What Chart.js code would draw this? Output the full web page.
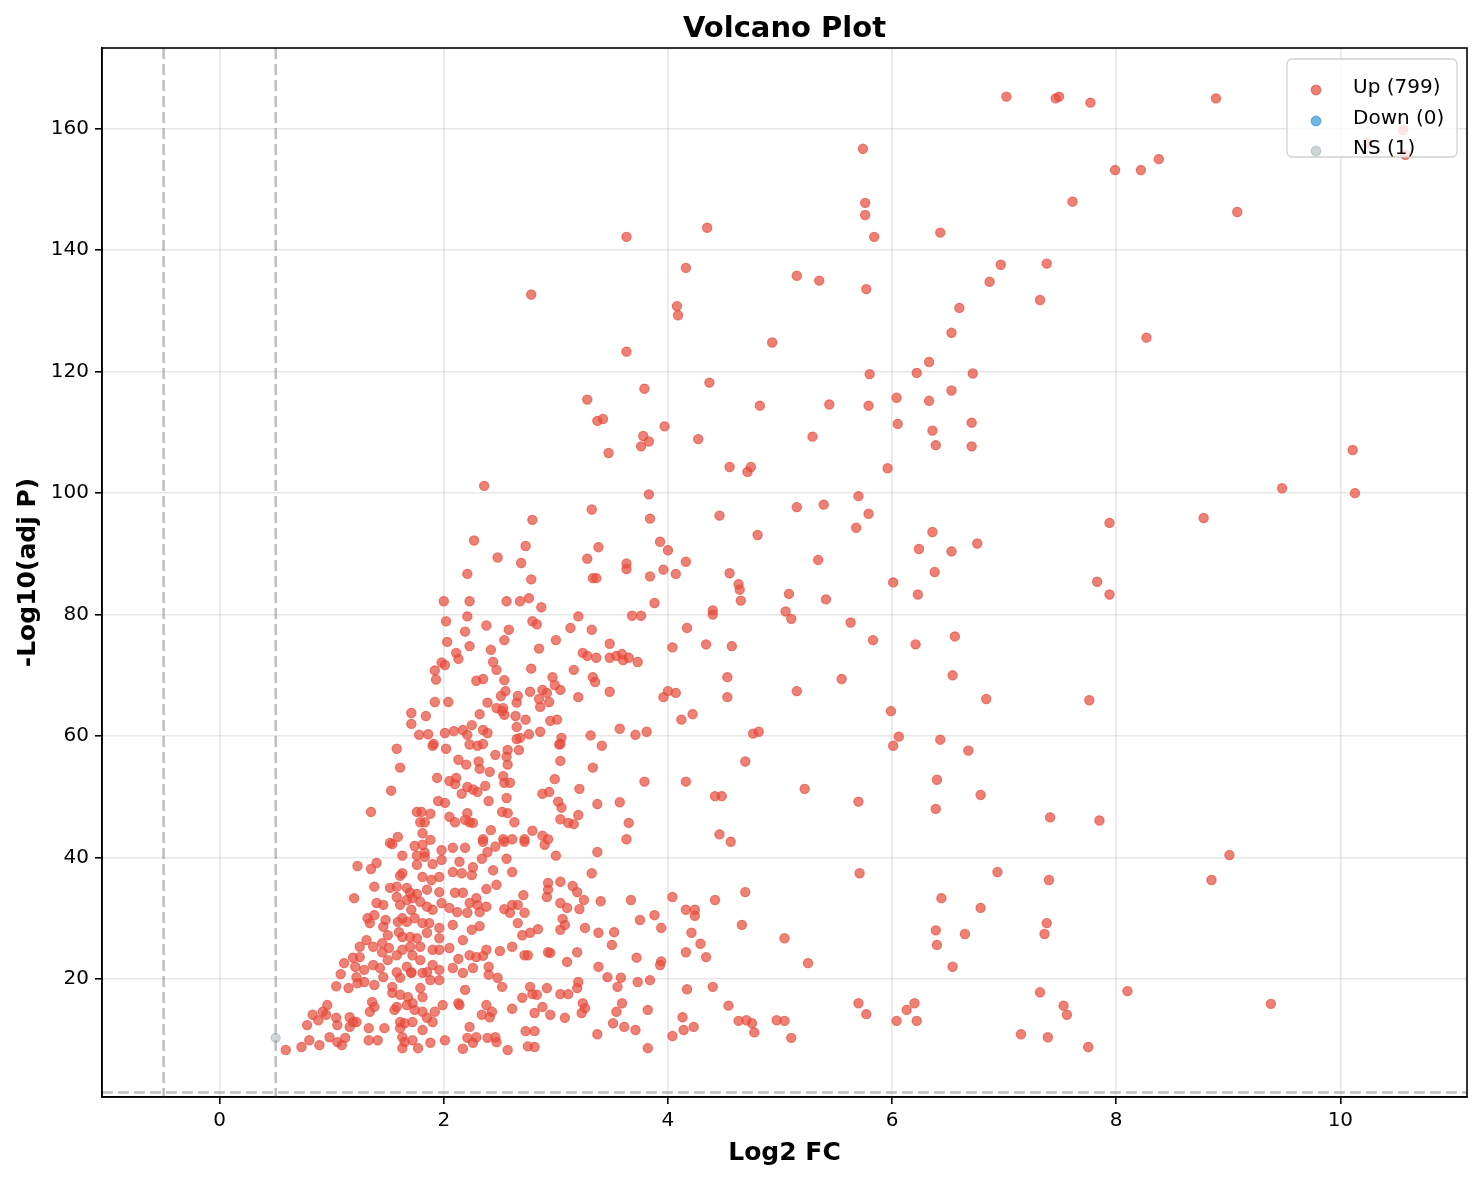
<!DOCTYPE html>
<html>
<head>
<meta charset="utf-8">
<title>Volcano Plot</title>
<script src="https://cdn.jsdelivr.net/npm/chart.js@4.4.0/dist/chart.umd.min.js"></script>
<style>
  html, body { margin: 0; padding: 0; background: #fff; }
  #wrap { width: 1482px; height: 1180px; }
</style>
</head>
<body>
<div id="wrap"><canvas id="volcano" width="1482" height="1180"></canvas></div>
<script>
// tick positions
const xTicks = [0, 2, 4, 6, 8, 10];
const yTicks = [20, 40, 60, 80, 100, 120, 140, 160];

// thresholds (|log2FC| = 0.5, adj P = 0.05)
const fcCut = 0.5;
const pCut = 1.301;

// legend labels
const seriesNames = ["Up (799)", "Down (0)", "NS (1)"];

// [log2FC, -log10(adj P)] pairs, grouped by region
const upHighSig = [
  [7.02,165.3],[7.46,165.0],[7.49,165.3],[7.77,164.3],[8.89,165.0],[10.24,157.7],[10.56,159.8],[10.58,155.7],
  [5.74,156.7],[7.99,153.2],[8.22,153.2],[8.38,155.0],[5.76,147.8],[5.76,145.8],[5.84,142.2],[7.61,148.0],
  [9.08,146.3],[3.63,142.2],[4.35,143.7],[6.43,142.9],[4.16,137.1],[5.15,135.8],[5.35,135.0],[6.97,137.6],
  [7.38,137.8],[6.87,134.8],[7.32,131.8],[5.77,133.6],[2.78,132.7],[4.08,130.8],[4.09,129.3],[6.60,130.5],
  [6.53,126.4],[8.27,125.6],[3.63,123.3],[4.93,124.8],[6.33,121.6],[6.22,119.8],[6.72,119.7],[5.80,119.6],
  [4.37,118.2],[3.79,117.2],[6.53,116.9],[6.04,115.7],[6.33,115.2],[3.28,115.4],[4.82,114.4],[5.44,114.6],
  [5.79,114.4],[3.42,112.2],[3.37,111.9],[6.05,111.4],[6.71,111.6],[3.97,111.0],[6.36,110.3],[5.29,109.3],
  [4.27,108.9],[3.78,109.4],[3.83,108.5],[3.76,107.7],[6.39,107.9],[6.71,107.7],[3.47,106.6],[10.11,107.1],
  [4.55,104.3],[4.71,103.5],[4.74,104.3],[5.96,104.1],[2.36,101.2],[3.83,99.8],[9.48,100.8],[10.13,100.0],
  [5.70,99.5]
];

const upUpperMid = [
  [2.79,95.6],[3.84,95.8],[4.46,96.3],[8.78,95.9],[7.94,95.1],[3.32,97.3],[5.15,97.7],[5.39,98.1],
  [5.79,96.6],[5.68,94.3],[2.27,92.2],[6.36,93.6],[4.80,93.1],[3.93,92.0],[3.38,91.1],[2.73,91.3],
  [6.76,91.7],[4.00,90.6],[6.24,90.8],[6.53,90.4],[2.48,89.4],[3.28,89.2],[5.34,89.0],[4.16,88.7],
  [3.63,88.4],[3.63,87.5],[2.69,88.5],[3.96,87.4],[4.07,86.7],[2.21,86.7],[4.55,86.8],[6.38,87.0],
  [3.84,86.3],[3.33,86.0],[3.36,86.0],[2.78,85.8],[7.83,85.4],[4.63,85.0],[4.64,84.1],[6.01,85.3],
  [7.94,83.3],[5.08,83.4],[6.23,83.3],[4.65,82.3],[3.88,81.9],[5.41,82.5],[2.00,82.2],[2.23,82.2],
  [2.56,82.2],[2.68,82.2],[2.76,82.7],[2.87,81.2],[5.05,80.5],[4.40,80.7],[4.40,80.0],[3.20,79.7],
  [3.68,79.8],[3.76,79.8],[5.10,79.3],[2.21,79.7],[2.02,78.9],[5.63,78.7],[2.79,78.9],[2.83,78.4],
  [2.38,78.2],[3.13,77.8],[4.17,77.8],[3.32,77.5],[2.58,77.5],[2.19,77.2],[6.56,76.4],[5.83,75.8],
  [4.34,75.1],[4.57,74.8],[6.21,75.1],[4.04,74.6]
];

const upMidRight = [
  [7.76,65.9],[6.84,66.1],[5.99,64.1],[6.54,70.0],[5.55,69.4],[5.15,67.4],[4.53,69.7],[4.53,66.4],
  [4.00,67.4],[4.07,67.1],[3.96,66.4],[4.22,63.6],[4.12,62.7],[3.81,60.7],[6.06,59.9],[6.01,58.4],
  [6.43,59.4],[6.68,57.6],[4.76,60.4],[4.81,60.7],[4.69,55.8],[4.16,52.5],[3.79,52.5],[6.40,52.8],
  [5.22,51.3],[4.42,50.1],[4.48,50.1],[5.70,49.2],[6.79,50.3],[6.39,48.0],[7.41,46.6],[7.85,46.1],
  [4.46,43.8],[4.56,42.6],[9.01,40.4]
];

const upMidLeft = [
  [1.92,70.8],[1.93,69.3],[1.92,65.6],[1.71,63.8],[1.71,62.0],[1.84,63.3],[1.78,60.2],[1.86,60.3],
  [1.91,58.7],[1.90,58.4],[1.58,57.9],[1.61,54.8],[1.94,53.1],[1.53,51.0],[1.95,49.3],[1.35,47.5],
  [1.76,47.5],[1.80,47.5],[1.79,45.8],[1.83,45.8],[1.88,47.2],[1.81,44.0],[1.59,43.4],[1.52,42.4],
  [1.88,42.9]
];

const upMidCentre = [
  [2.03,75.5],[2.23,74.8],[2.54,75.8],[2.42,74.2],[2.85,74.4],[3.00,75.8],[3.48,75.2],[2.11,73.7],
  [2.13,72.7],[2.01,71.7],[1.98,72.1],[2.44,72.2],[2.47,70.9],[2.78,71.1],[3.16,70.9],[3.24,73.7],
  [3.28,73.2],[3.36,72.9],[3.48,72.9],[3.54,73.2],[3.59,73.5],[3.60,72.5],[3.65,72.9],[3.73,72.2],
  [2.29,69.1],[2.35,69.4],[2.54,69.2],[2.97,69.7],[2.99,68.4],[3.04,67.6],[3.33,69.7],[3.35,68.9],
  [2.77,67.3],[2.88,67.6],[2.92,67.1],[2.94,65.6],[2.85,66.1],[2.86,64.8],[2.66,66.6],[2.65,65.5],
  [2.55,67.4],[2.51,66.6],[3.20,66.4],[3.48,67.3],[2.04,65.6],[2.39,65.5],[2.47,64.6],[2.53,64.6],
  [2.54,63.5],[2.52,64.1],[2.32,63.6],[2.64,63.3],[2.73,62.7],[2.95,62.5],[3.01,62.7],[2.65,61.5],
  [2.01,60.5],[2.09,60.8],[2.17,61.0],[2.25,61.8],[2.35,61.0],[2.39,60.5],[2.21,60.2],[2.76,60.3],
  [2.86,60.7],[2.65,59.5],[2.68,59.7],[3.05,59.7],[3.04,58.7],[3.03,58.6],[3.31,60.1],[3.57,61.2],
  [3.71,60.2],[3.41,58.4],[2.23,58.6],[2.30,58.4],[2.35,58.7],[2.02,57.9],[2.57,57.7],[2.67,57.7],
  [2.46,56.9],[2.56,56.6],[2.57,55.3],[3.04,55.9],[2.13,56.1],[2.20,55.3],[2.31,55.8],[2.32,54.6],
  [2.41,54.1],[3.33,54.8],[2.53,53.4],[2.54,52.3],[2.59,52.3],[2.99,52.9],[3.21,51.3],[2.05,52.6],
  [2.11,53.1],[2.10,52.1],[2.21,51.6],[2.26,51.2],[2.30,50.8],[2.37,51.8],[2.16,50.5],[2.88,50.5],
  [2.94,50.8],[2.56,49.8],[2.40,49.3],[3.02,49.2],[3.05,48.2],[3.37,48.8],[3.57,49.1],[2.52,47.5],
  [2.57,47.3],[3.20,47.0],[3.04,46.3],[3.11,45.7],[3.16,45.5],[2.63,45.8],[3.65,45.7],[2.01,49.0],
  [2.05,46.7],[2.10,45.8],[2.21,47.3],[2.23,45.8],[2.26,45.7],[2.19,46.2],[2.42,44.5],[2.79,44.4],
  [2.88,43.6],[2.93,43.0],[2.53,43.0],[2.61,43.0],[2.35,43.0],[2.72,43.0],[3.63,43.0]
];

const upLowLeft = [
  [1.54,42.2],[1.74,41.9],[1.81,42.1],[1.83,40.8],[1.98,41.2],[1.63,40.3],[1.76,40.3],[1.83,40.1],
  [1.40,39.1],[1.23,38.6],[1.35,38.1],[1.61,37.0],[1.63,37.4],[1.76,38.8],[1.90,38.9],[1.98,39.6],
  [1.81,36.8],[1.89,36.3],[1.96,36.8],[1.38,35.2],[1.52,35.0],[1.58,35.2],[1.67,35.0],[1.70,34.2],
  [1.76,34.0],[1.85,34.7],[1.96,34.3],[1.20,33.3],[1.40,32.5],[1.46,32.2],[1.58,33.5],[1.61,32.2],
  [1.67,33.0],[1.72,33.3],[1.79,32.7],[1.85,31.9],[1.90,31.4],[1.98,32.5],[1.71,31.4],[1.32,30.0],
  [1.34,29.2],[1.38,30.5],[1.48,29.7],[1.46,28.6],[1.59,29.4],[1.63,30.0],[1.67,29.4],[1.74,30.0],
  [1.81,29.2],[1.87,29.2],[1.96,28.4],[1.50,27.2],[1.60,27.7],[1.63,26.9],[1.70,26.9],[1.76,26.7],
  [1.85,27.6],[1.96,26.7],[1.31,26.4],[1.25,25.3],[1.37,25.3],[1.45,25.9],[1.25,23.6],[1.19,23.5],
  [1.45,24.4],[1.51,25.1],[1.58,23.9],[1.63,24.8],[1.70,25.3],[1.72,23.9],[1.79,25.3],[1.90,24.8],
  [1.96,24.8],[1.11,22.6],[1.21,22.0],[1.29,21.5],[1.37,22.3],[1.43,21.8],[1.50,23.1],[1.58,21.1],
  [1.67,22.0],[1.71,21.1],[1.79,23.1],[1.85,21.1],[1.90,22.3],[1.96,21.5],[1.08,20.8],[1.22,20.3],
  [1.29,19.5],[1.38,19.0],[1.46,20.3],[1.61,20.2],[1.71,21.0],[1.81,21.0],[1.88,19.8],[1.96,19.8],
  [1.04,18.8],[1.15,18.5],[1.23,19.3],[1.54,18.7],[1.54,17.7],[1.61,17.4],[1.68,17.0],[1.79,18.5],
  [1.81,17.0],[1.72,16.0],[1.67,15.7],[0.96,15.7],[0.92,14.6],[0.83,14.1],[0.88,13.2],[0.95,14.1],
  [0.78,12.4],[1.04,13.6],[1.05,12.4],[1.16,13.7],[1.19,12.9],[1.22,12.9],[1.16,12.1],[1.36,16.2],
  [1.38,15.4],[1.34,14.6],[1.56,14.9],[1.58,15.4],[1.74,14.9],[1.81,14.6],[1.92,14.6],[1.99,15.7],
  [1.85,13.6],[1.90,12.9],[1.61,12.9],[1.65,12.7],[1.72,12.9],[1.61,11.9],[1.81,11.6],[1.33,11.9],
  [1.47,11.9],[0.80,9.9],[0.73,8.8],[0.89,9.1],[0.59,8.3],[0.98,10.4],[1.05,9.6],[1.09,9.1],
  [1.12,10.3],[1.33,9.9],[1.41,9.9],[1.63,10.4],[1.65,9.6],[1.72,9.9],[1.63,8.6],[1.77,8.6],
  [1.88,9.5],[2.01,9.9]
];

const upLowCentre = [
  [2.35,42.6],[2.54,42.6],[2.72,42.6],[2.90,42.1],[3.37,40.9],[3.00,40.3],[2.08,41.6],[2.19,41.6],
  [2.14,39.3],[2.39,40.9],[2.46,41.8],[2.34,39.8],[2.56,39.8],[2.26,38.4],[2.44,37.9],[2.61,37.6],
  [2.08,37.6],[2.16,37.4],[2.25,37.1],[3.32,37.4],[2.93,35.8],[3.04,36.0],[3.15,35.3],[3.19,34.3],
  [2.93,34.7],[2.92,33.5],[2.47,35.5],[2.38,34.8],[2.10,34.2],[2.17,34.2],[2.29,33.3],[2.23,32.5],
  [2.30,32.2],[2.38,31.9],[2.54,31.5],[2.61,32.2],[2.66,32.2],[2.72,30.9],[2.59,30.9],[2.71,33.8],
  [3.04,32.5],[3.10,31.7],[3.21,31.5],[3.25,33.0],[3.40,32.8],[3.67,33.0],[2.05,31.7],[2.12,31.0],
  [2.21,30.9],[2.32,31.0],[3.06,29.9],[3.08,28.9],[3.04,28.1],[3.26,28.4],[3.38,27.6],[3.52,27.7],
  [2.66,29.2],[2.08,28.9],[2.32,28.7],[2.25,28.1],[2.77,27.6],[2.84,28.2],[2.70,27.2],[3.50,25.6],
  [3.75,29.7],[2.17,26.4],[2.05,25.1],[2.61,25.3],[2.50,24.6],[2.38,24.8],[2.29,23.6],[2.35,23.8],
  [2.23,23.9],[2.72,23.9],[2.75,23.9],[2.93,24.4],[2.95,24.3],[3.19,24.4],[3.10,22.8],[3.72,23.5],
  [3.38,22.0],[3.46,20.3],[3.58,20.2],[3.73,19.5],[3.55,18.7],[3.20,19.5],[3.19,18.5],[3.04,17.5],
  [3.11,17.5],[2.92,18.5],[2.77,18.7],[2.79,17.5],[2.83,17.4],[2.70,16.9],[2.52,18.7],[2.48,20.2],
  [2.40,22.0],[2.40,20.7],[2.26,21.8],[2.17,21.0],[2.08,21.8],[2.13,23.3],[2.19,18.2],[2.13,16.0],
  [2.14,15.7],[2.38,15.7],[2.43,14.6],[2.34,14.1],[2.41,13.7],[2.61,15.1],[2.81,14.4],[2.88,15.4],
  [2.95,14.1],[3.08,13.6],[3.24,16.0],[3.26,15.2],[3.23,14.4],[3.54,14.6],[3.59,16.0],[2.23,12.1],
  [2.21,10.3],[2.29,10.4],[2.39,10.3],[2.46,10.4],[2.47,9.6],[2.26,9.5],[2.17,8.5],[2.57,8.3],
  [2.73,11.4],[2.81,11.4],[2.75,8.9],[2.81,8.8],[3.37,10.9],[3.61,12.1],[3.71,11.6]
];

const upLowRight = [
  [4.04,33.5],[4.42,33.0],[4.16,31.4],[4.24,31.4],[4.24,30.4],[3.88,30.5],[3.94,28.4],[4.21,27.6],
  [4.29,25.8],[4.34,23.6],[4.16,24.4],[3.94,22.9],[3.93,22.3],[3.84,19.8],[3.82,14.9],[3.51,12.7],
  [3.82,8.6],[4.04,10.6],[4.14,11.6],[4.23,12.1],[4.13,13.7],[4.17,18.3],[4.40,18.7],[4.54,15.6],
  [4.63,13.1],[4.70,13.2],[4.75,12.7],[4.77,11.2],[4.97,13.2],[5.04,13.1],[5.10,10.3],[4.66,28.9],
  [4.69,34.3],[5.04,26.7],[5.25,22.6],[5.71,37.4],[5.70,16.0],[5.77,14.2],[6.04,13.1],[6.13,14.9],
  [6.20,16.0],[6.22,13.1],[6.39,28.0],[6.40,25.6],[6.44,33.3],[6.54,22.0],[6.65,27.4],[6.79,31.7],
  [6.94,37.6],[7.15,10.9],[7.32,17.8],[7.36,27.4],[7.38,29.2],[7.40,36.3],[7.39,10.4],[7.53,15.6],
  [7.56,14.1],[7.75,8.8],[8.10,18.0],[8.85,36.3],[9.38,15.9]
];

const downPoints = [];
const nsPoints = [[0.50,10.3]];

const upPoints = [].concat(upHighSig, upUpperMid, upMidRight, upMidLeft, upMidCentre, upLowLeft, upLowCentre, upLowRight);

const FONT = '"DejaVu Sans", "Liberation Sans", sans-serif';
const upColor = 'rgba(231,76,60,0.7)';
const downColor = 'rgba(52,152,219,0.7)';
const nsColor = 'rgba(149,165,166,0.45)';

const toXY = arr => arr.map(p => ({ x: p[0], y: p[1] }));

// dashed threshold lines, box frame, title and legend
const decorPlugin = {
  id: 'decor',
  beforeDatasetsDraw(chart) {
    const { ctx, chartArea: a, scales: { x, y } } = chart;
    ctx.save();
    ctx.beginPath();
    ctx.rect(a.left, a.top, a.right - a.left, a.bottom - a.top);
    ctx.clip();
    ctx.strokeStyle = 'rgba(128,128,128,0.5)';
    ctx.lineWidth = 2.5;
    ctx.setLineDash([11, 5]);
    [-fcCut, fcCut].forEach(v => {
      const px = x.getPixelForValue(v);
      ctx.beginPath();
      ctx.moveTo(px, a.top);
      ctx.lineTo(px, a.bottom);
      ctx.stroke();
    });
    const py = y.getPixelForValue(pCut);
    ctx.beginPath();
    ctx.moveTo(a.left, py);
    ctx.lineTo(a.right, py);
    ctx.stroke();
    ctx.restore();
  },
  afterDraw(chart) {
    const { ctx, chartArea: a } = chart;
    ctx.save();
    // frame
    ctx.strokeStyle = '#000';
    ctx.lineWidth = 1.6;
    ctx.strokeRect(a.left, a.top, a.right - a.left, a.bottom - a.top);

    // title
    ctx.fillStyle = '#000';
    ctx.font = 'bold 29px ' + FONT;
    ctx.textAlign = 'center';
    ctx.textBaseline = 'alphabetic';
    ctx.fillText('Volcano Plot', (a.left + a.right) / 2, 37);

    // legend
    const bx = a.right - 180, by = a.top + 11, bw = 170, bh = 98;
    ctx.beginPath();
    if (ctx.roundRect) ctx.roundRect(bx, by, bw, bh, 5); else ctx.rect(bx, by, bw, bh);
    ctx.fillStyle = 'rgba(255,255,255,0.8)';
    ctx.fill();
    ctx.strokeStyle = 'rgba(204,204,204,0.9)';
    ctx.lineWidth = 1.3;
    ctx.stroke();
    const colors = [upColor, downColor, nsColor];
    const rows = [30, 61, 91];
    ctx.font = '20px ' + FONT;
    ctx.textAlign = 'left';
    ctx.textBaseline = 'middle';
    seriesNames.forEach((name, i) => {
      const cy = by + rows[i];
      ctx.beginPath();
      ctx.arc(bx + 29, cy + 1, 4.8, 0, Math.PI * 2);
      ctx.fillStyle = colors[i];
      ctx.fill();
      ctx.strokeStyle = colors[i];
      ctx.lineWidth = 1.2;
      ctx.stroke();
      ctx.fillStyle = '#000';
      ctx.fillText(name, bx + 66, cy - 1);
    });
    ctx.restore();
  }
};

const gridOpts = {
  color: 'rgba(176,176,176,0.3)',
  lineWidth: 1.6,
  drawTicks: true,
  tickLength: 7,
  tickColor: '#000',
  tickWidth: 1.6
};

new Chart(document.getElementById('volcano'), {
  type: 'scatter',
  data: {
    datasets: [
      {
        label: seriesNames[0],
        data: toXY(upPoints),
        backgroundColor: upColor,
        borderColor: upColor,
        borderWidth: 1.2,
        pointRadius: 4.6
      },
      {
        label: seriesNames[1],
        data: toXY(downPoints),
        backgroundColor: downColor,
        borderColor: downColor,
        borderWidth: 1.2,
        pointRadius: 4.6
      },
      {
        label: seriesNames[2],
        data: toXY(nsPoints),
        backgroundColor: nsColor,
        borderColor: nsColor,
        borderWidth: 1.2,
        pointRadius: 4.6
      }
    ]
  },
  options: {
    responsive: false,
    animation: false,
    devicePixelRatio: 1,
    layout: { padding: { top: 48, right: 15, left: 0, bottom: 0 } },
    plugins: {
      legend: { display: false },
      title: { display: false },
      tooltip: { enabled: false }
    },
    scales: {
      x: {
        type: 'linear',
        min: -1.05,
        max: 11.13,
        afterBuildTicks: s => { s.ticks = xTicks.map(v => ({ value: v })); },
        afterFit: s => { s.height = 83; },
        ticks: { color: '#000', padding: 5, font: { family: FONT, size: 20 } },
        grid: gridOpts,
        border: { color: '#000', width: 1.6 },
        title: {
          display: true,
          text: 'Log2 FC',
          color: '#000',
          padding: { top: 0, bottom: 12 },
          font: { family: FONT, size: 25, weight: 'bold' }
        }
      },
      y: {
        type: 'linear',
        min: 0.56,
        max: 173.3,
        afterBuildTicks: s => { s.ticks = yTicks.map(v => ({ value: v })); },
        afterFit: s => { s.width = 102; },
        ticks: { color: '#000', padding: 6, font: { family: FONT, size: 20 } },
        grid: gridOpts,
        border: { color: '#000', width: 1.6 },
        title: {
          display: true,
          text: '-Log10(adj P)',
          color: '#000',
          padding: { top: 13, bottom: 0 },
          font: { family: FONT, size: 25, weight: 'bold' }
        }
      }
    }
  },
  plugins: [decorPlugin]
});
</script>
</body>
</html>
